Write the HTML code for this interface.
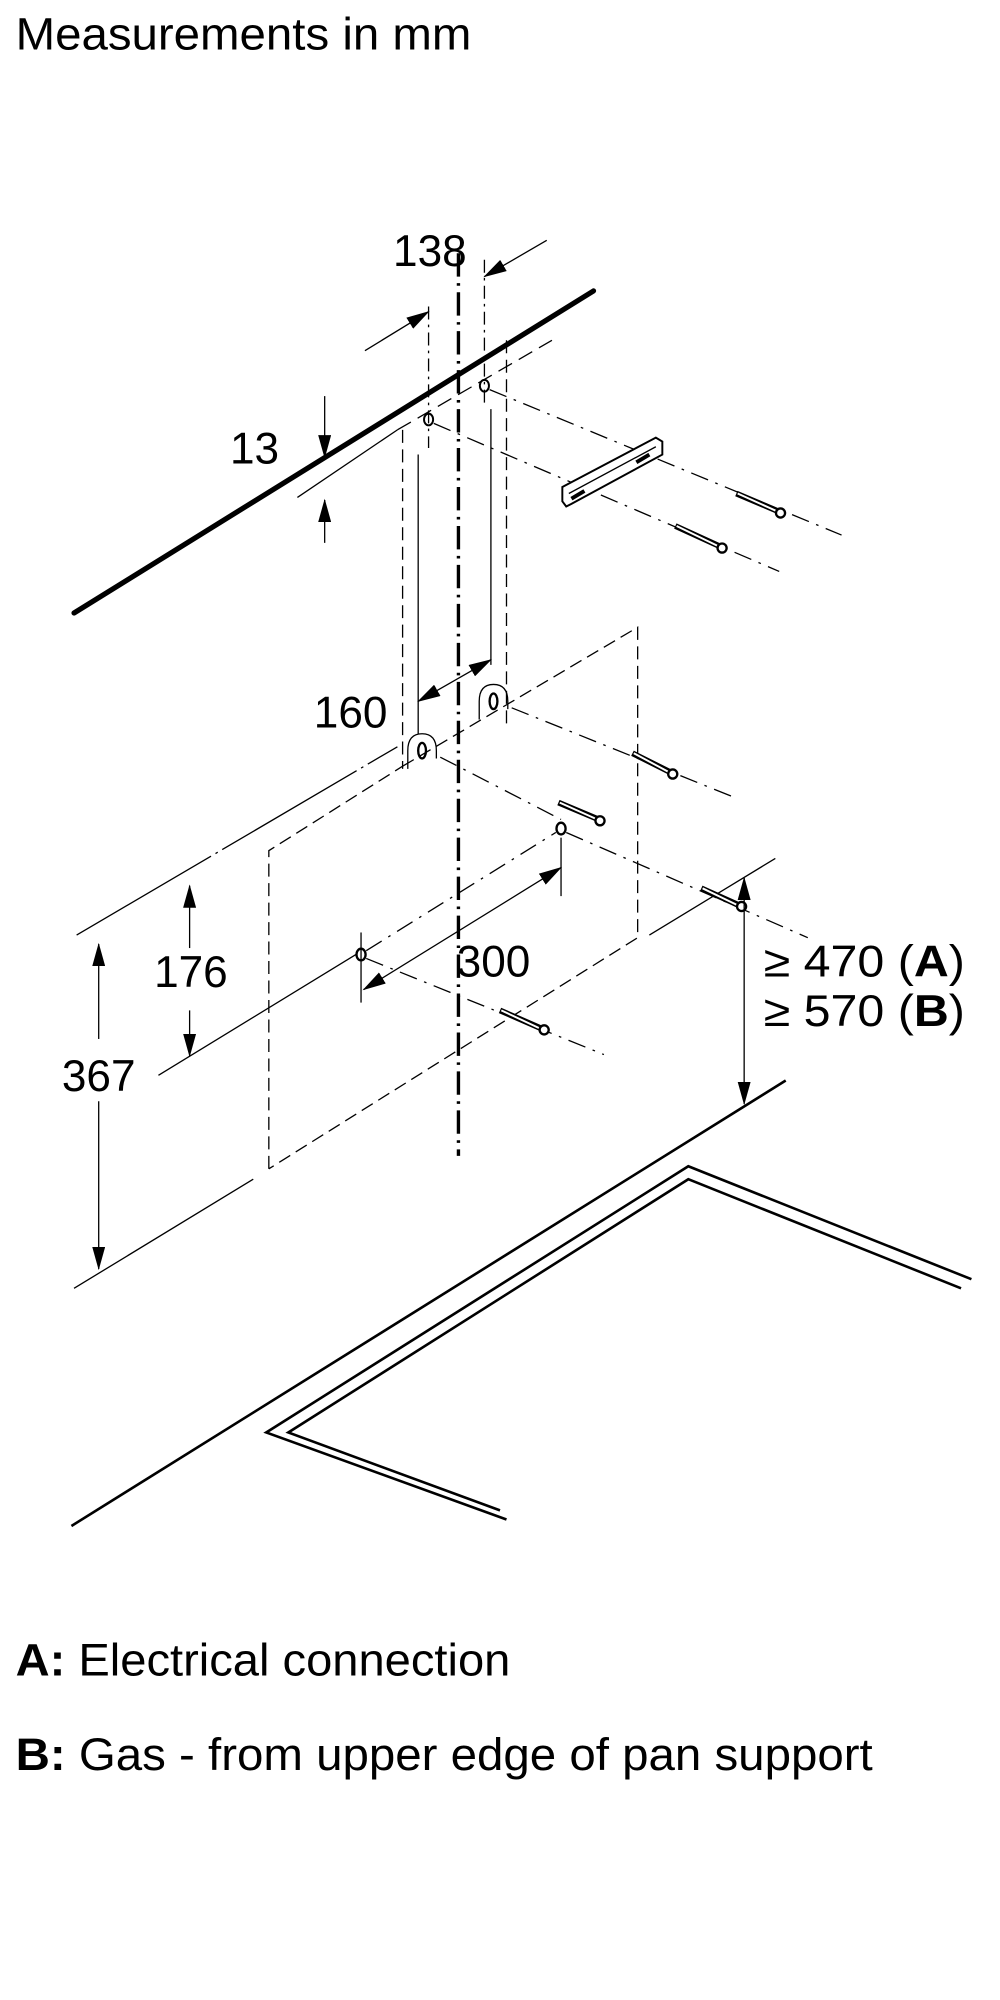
<!DOCTYPE html>
<html><head><meta charset="utf-8"><style>
html,body{margin:0;padding:0;background:#fff;}
svg{display:block;}
text{font-family:"Liberation Sans",Arial,sans-serif;fill:#000;}
</style></head><body>
<svg width="1000" height="2000" viewBox="0 0 770 1540" xmlns="http://www.w3.org/2000/svg">
<defs>
<marker id="a" markerWidth="18" markerHeight="10" refX="17" refY="5" orient="auto" markerUnits="userSpaceOnUse"><path d="M0,0 L18,5 L0,10 z" fill="#000"/></marker>
<marker id="s" markerWidth="18" markerHeight="10" refX="1" refY="5" orient="auto" markerUnits="userSpaceOnUse"><path d="M18,0 L0,5 L18,10 z" fill="#000"/></marker>
</defs>
<text x="12" y="38" font-size="35" textLength="351" lengthAdjust="spacingAndGlyphs">Measurements in mm</text>

<g stroke="#000" fill="none">
<line x1="57" y1="472" x2="457" y2="224" stroke-width="4" stroke-linecap="round"/>
<line x1="353" y1="195" x2="353" y2="890" stroke-width="2.6" stroke-dasharray="18,5,2,5"/>
<line x1="330" y1="236" x2="330" y2="345" stroke-width="1" stroke-dasharray="10,4,2,4"/>
<line x1="373" y1="200" x2="373" y2="312" stroke-width="1" stroke-dasharray="10,4,2,4"/>
<line x1="281" y1="270" x2="330" y2="240" stroke-width="1" marker-end="url(#a)"/>
<line x1="421" y1="185" x2="373" y2="213" stroke-width="1" marker-end="url(#a)"/>
<line x1="250" y1="305" x2="250" y2="352" stroke-width="1" marker-end="url(#a)"/>
<line x1="250" y1="418" x2="250" y2="385" stroke-width="1" marker-end="url(#a)"/>
<line x1="229" y1="383" x2="306" y2="331" stroke-width="1"/>
<line x1="306" y1="331" x2="425" y2="262" stroke-width="1" stroke-dasharray="12,6"/>
<line x1="310" y1="331" x2="310" y2="592" stroke-width="1" stroke-dasharray="10,5"/>
<line x1="390" y1="262" x2="390" y2="560" stroke-width="1" stroke-dasharray="10,5"/>
<line x1="322" y1="350" x2="322" y2="565" stroke-width="1"/>
<line x1="378" y1="315" x2="378" y2="512" stroke-width="1"/>
<ellipse cx="330" cy="323" rx="3.5" ry="4.5" stroke-width="1.5"/>
<ellipse cx="373" cy="297" rx="3.5" ry="4.5" stroke-width="1.5"/>
<line x1="377" y1="300" x2="648" y2="412" stroke-width="1" stroke-dasharray="14,6,2,6"/>
<line x1="334" y1="326" x2="600" y2="440" stroke-width="1" stroke-dasharray="14,6,2,6"/>
<path d="M433,375 L505,337 L510,340 L510,350 L440,388 L436,390 L433,386 Z" stroke-width="1.5" fill="#fff"/>
<line x1="438" y1="380" x2="505" y2="344" stroke-width="1"/>
<line x1="440" y1="384" x2="450" y2="378" stroke-width="3"/>
<line x1="490" y1="356" x2="500" y2="350" stroke-width="3"/>
<line x1="567" y1="380" x2="600" y2="394" stroke-width="4.5"/><line x1="568" y1="380" x2="599" y2="394" stroke="#fff" stroke-width="1.5"/>
<circle cx="601" cy="395" r="3.5" stroke-width="1.8" fill="#fff"/>
<line x1="520" y1="405" x2="555" y2="421" stroke-width="4.5"/><line x1="521" y1="405" x2="554" y2="421" stroke="#fff" stroke-width="1.5"/>
<circle cx="556" cy="422" r="3.5" stroke-width="1.8" fill="#fff"/>
<line x1="322" y1="540" x2="378" y2="508" stroke-width="1" marker-end="url(#a)" marker-start="url(#s)"/>
<path d="M207,900 L207,655 L310,590 M310,590 L491,483 L491,722 L207,900" stroke-width="1" stroke-dasharray="10,5"/>
<path d="M314,592 L314,578 Q314,565 325,565 Q336,565 336,578 L336,584" stroke-width="1"/>
<ellipse cx="325" cy="578" rx="3" ry="6" stroke-width="1.8"/>
<path d="M369,554 L369,540 Q369,527 380,527 Q391,527 391,540 L391,546" stroke-width="1"/>
<ellipse cx="380" cy="540" rx="3" ry="6" stroke-width="1.8"/>
<line x1="339" y1="583" x2="432" y2="631" stroke-width="1" stroke-dasharray="14,6,2,6"/>
<line x1="394" y1="545" x2="568" y2="615" stroke-width="1" stroke-dasharray="14,6,2,6"/>
<line x1="59" y1="720" x2="306" y2="575" stroke-width="1" stroke-dasharray="120,4,2,4"/>
<line x1="122" y1="828" x2="274" y2="735" stroke-width="1"/>
<line x1="57" y1="992" x2="195" y2="908" stroke-width="1"/>
<line x1="500" y1="720" x2="597" y2="661" stroke-width="1"/>
<ellipse cx="432" cy="638" rx="3.5" ry="4.5" stroke-width="1.8"/>
<ellipse cx="278" cy="735" rx="3.5" ry="4.5" stroke-width="1.8"/>
<line x1="282" y1="732" x2="428" y2="641" stroke-width="1" stroke-dasharray="14,6,2,6"/>
<line x1="436" y1="641" x2="622" y2="722" stroke-width="1" stroke-dasharray="14,6,2,6"/>
<line x1="282" y1="738" x2="465" y2="812" stroke-width="1" stroke-dasharray="14,6,2,6"/>
<line x1="432" y1="645" x2="432" y2="690" stroke-width="1"/>
<line x1="278" y1="718" x2="278" y2="772" stroke-width="1"/>
<line x1="432" y1="668" x2="280" y2="762" stroke-width="1" marker-end="url(#a)" marker-start="url(#s)"/>
<line x1="430" y1="618" x2="461" y2="631" stroke-width="4.5"/><line x1="431" y1="618" x2="460" y2="631" stroke="#fff" stroke-width="1.5"/><circle cx="462" cy="632" r="3.5" stroke-width="1.8" fill="#fff"/>
<line x1="487" y1="580" x2="517" y2="595" stroke-width="4.5"/><line x1="488" y1="580" x2="516" y2="595" stroke="#fff" stroke-width="1.5"/><circle cx="518" cy="596" r="3.5" stroke-width="1.8" fill="#fff"/>
<line x1="540" y1="684" x2="569" y2="697" stroke-width="4.5"/><line x1="541" y1="684" x2="568" y2="697" stroke="#fff" stroke-width="1.5"/><circle cx="571" cy="698" r="3.5" stroke-width="1.8" fill="#fff"/>
<line x1="385" y1="778" x2="417" y2="792" stroke-width="4.5"/><line x1="386" y1="778" x2="416" y2="792" stroke="#fff" stroke-width="1.5"/><circle cx="419" cy="793" r="3.5" stroke-width="1.8" fill="#fff"/>
<line x1="146" y1="730" x2="146" y2="682" stroke-width="1" marker-end="url(#a)"/>
<line x1="146" y1="778" x2="146" y2="813" stroke-width="1" marker-end="url(#a)"/>
<line x1="76" y1="800" x2="76" y2="727" stroke-width="1" marker-end="url(#a)"/>
<line x1="76" y1="848" x2="76" y2="977" stroke-width="1" marker-end="url(#a)"/>
<line x1="573" y1="676" x2="573" y2="850" stroke-width="1" marker-end="url(#a)" marker-start="url(#s)"/>
<line x1="55" y1="1175" x2="605" y2="832" stroke-width="2"/>
<polyline points="390,1170 205,1103 530,898 748,985" stroke-width="2"/>
<polyline points="385,1163 222,1103 530,908 740,992" stroke-width="2"/>
</g>

<g font-size="34">
<text x="331" y="205" text-anchor="middle">138</text>
<text x="196" y="357" text-anchor="middle">13</text>
<text x="270" y="560" text-anchor="middle">160</text>
<text x="380" y="752" text-anchor="middle">300</text>
<text x="147" y="760" text-anchor="middle">176</text>
<text x="76" y="840" text-anchor="middle">367</text>
<text x="588" y="752" textLength="155" lengthAdjust="spacingAndGlyphs">≥ 470 (<tspan font-weight="bold">A</tspan>)</text>
<text x="588" y="790" textLength="155" lengthAdjust="spacingAndGlyphs">≥ 570 (<tspan font-weight="bold">B</tspan>)</text>
</g>
<g font-size="35">
<text x="12" y="1290" textLength="381" lengthAdjust="spacingAndGlyphs"><tspan font-weight="bold">A:</tspan> Electrical connection</text>
<text x="12" y="1363" textLength="660" lengthAdjust="spacingAndGlyphs"><tspan font-weight="bold">B:</tspan> Gas - from upper edge of pan support</text>
</g>
</svg>
</body></html>
